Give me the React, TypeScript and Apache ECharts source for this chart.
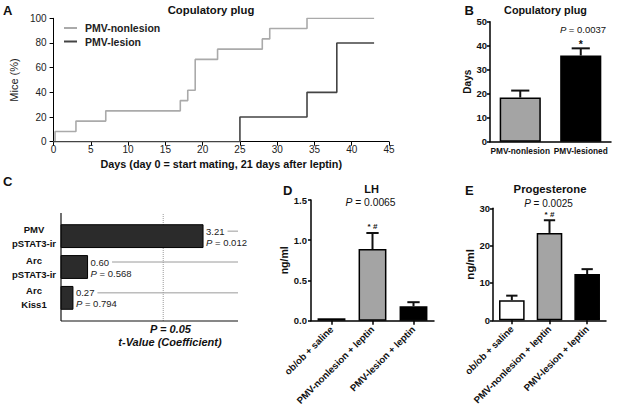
import React, { useEffect, useRef } from "react";
import * as echarts from "echarts";

const FONT = "'Liberation Sans', Arial, Helvetica, sans-serif";

// ---- Panel A: cumulative copulatory plug (Kaplan-Meier style) ----
const nonlesionDays = [0, 0.2, 3, 7, 17, 18, 19, 22, 28, 29, 34, 43];
const nonlesionPct = [0, 8.3, 16.7, 25, 33.3, 41.7, 66.7, 75, 83.3, 91.7, 100, 100];
const lesionDays = [0, 25, 34, 38, 43];
const lesionPct = [0, 20, 40, 80, 80];
const seriesNames = ["PMV-nonlesion", "PMV-lesion"];
const daysTicks = { min: 0, max: 45, interval: 5 };
const miceTicks = { min: 0, max: 100, interval: 20 };

// ---- Panel B: days to copulatory plug ----
const plugGroups = ["PMV-nonlesion", "PMV-lesioned"];
const plugDays = [18.4, 35.9];
const plugErr = [2.9, 3.0];
const plugSig = ["", "*"];

// ---- Panel C: t-values ----
const regionLabels = ["PMV\npSTAT3-ir", "Arc\npSTAT3-ir", "Arc\nKiss1"];
const tValues = [3.21, 0.6, 0.27];
const pValues = ["0.012", "0.568", "0.794"];
const tCritical = 2.31;
const tMax = 4;
const rowsMax = 3.5;

// ---- Panels D & E ----
const treatGroups = ["ob/ob + saline", "PMV-nonlesion + leptin", "PMV-lesion + leptin"];
const lhMean = [0.03, 0.89, 0.18];
const lhErr = [0, 0.2, 0.05];
const progMean = [5.4, 23.4, 12.4];
const progErr = [1.2, 3.4, 1.3];
const treatSig = ["", "* #", ""];

const GRAY = "#a4a4a4";

function measure(text: string, font: string): number {
  const c = document.createElement("canvas");
  const ctx = c.getContext("2d");
  if (!ctx) return text.length * 5;
  ctx.font = font;
  return ctx.measureText(text).width;
}

const makeErrorRender = (sig: string[], sigSize: number, sigOff: number) => (params: any, api: any) => {
  const i = api.value(0);
  const mean = api.value(1);
  const hi = api.value(2);
  const b = api.coord([i, mean]);
  const t = api.coord([i, hi]);
  const band = api.size([1, 0])[0];
  const cap = band * 0.15;
  const ls = { stroke: "#111", lineWidth: 2 };
  const children: any[] = [];
  if (hi > mean) {
    children.push({ type: "line", shape: { x1: b[0], y1: b[1], x2: t[0], y2: t[1] }, style: ls });
    children.push({ type: "line", shape: { x1: t[0] - cap, y1: t[1], x2: t[0] + cap, y2: t[1] }, style: ls });
  }
  const s = sig[params.dataIndex];
  if (s) {
    children.push({
      type: "text",
      x: t[0],
      y: t[1] - sigOff,
      style: { text: s, fontSize: sigSize, fontFamily: FONT, fontWeight: "bold", fill: "#111", align: "center", verticalAlign: "middle" },
    });
  }
  return { type: "group", children };
};

const renderC = (params: any, api: any) => {
  const i = params.dataIndex;
  const t = api.value(0);
  const pos = api.value(1);
  const a = api.coord([0, pos + 0.37]);
  const b = api.coord([t, pos - 0.37]);
  const c = api.coord([t, pos]);
  const xEnd = api.coord([tMax, pos])[0];
  const y0 = Math.min(a[1], b[1]);
  const y1 = Math.max(a[1], b[1]);
  const label = t.toFixed(2);
  const tx = b[0] + 3;
  const ly = c[1] - 5;
  const w = measure(label, `9.5px ${FONT}`);
  return {
    type: "group",
    children: [
      { type: "rect", shape: { x: a[0], y: y0, width: b[0] - a[0], height: y1 - y0 }, style: { fill: "#2b2b2b", stroke: "#000", lineWidth: 1 } },
      { type: "text", x: tx, y: ly, style: { text: label, fontSize: 9.5, fontFamily: FONT, fill: "#222", align: "left", verticalAlign: "middle" } },
      { type: "line", shape: { x1: tx + w + 3, y1: ly, x2: xEnd, y2: ly }, style: { stroke: "#9a9a9a", lineWidth: 1 } },
      {
        type: "text",
        x: tx,
        y: c[1] + 6,
        style: {
          text: `{i|P}{n| = ${pValues[i]}}`,
          rich: {
            i: { fontStyle: "italic", fontSize: 9.5, fontFamily: FONT, fill: "#222" },
            n: { fontSize: 9.5, fontFamily: FONT, fill: "#222" },
          },
          align: "left",
          verticalAlign: "middle",
        },
      },
      {
        type: "text",
        x: a[0] - 27,
        y: c[1],
        style: { text: regionLabels[i], fontSize: 9.5, fontWeight: "bold", fontFamily: FONT, fill: "#111", align: "center", verticalAlign: "middle", lineHeight: 14 },
      },
    ],
  };
};

function txt(x: number, y: number, text: string, size: number, weight: string = "bold", align: string = "center", italic = false) {
  return {
    type: "text",
    x,
    y,
    style: { text, fontSize: size, fontWeight: weight, fontStyle: italic ? "italic" : "normal", fontFamily: FONT, fill: "#111", align, verticalAlign: "middle" },
  };
}

function ptxt(x: number, y: number, value: string, size: number) {
  return {
    type: "text",
    x,
    y,
    style: {
      text: `{i|P}{n| = ${value}}`,
      rich: {
        i: { fontStyle: "italic", fontSize: size, fontFamily: FONT, fill: "#111" },
        n: { fontSize: size, fontFamily: FONT, fill: "#111" },
      },
      align: "center",
      verticalAlign: "middle",
    },
  };
}

const boldAxis = () => ({
  axisLine: { show: true, lineStyle: { color: "#000", width: 1.5 } },
  splitLine: { show: false },
});

const hiddenAxis = () => ({
  axisLine: { show: false },
  axisTick: { show: false },
  axisLabel: { show: false },
  splitLine: { show: false },
});

const frameLine = (data: number[][]) => ({
  type: "line",
  xAxisIndex: 2,
  yAxisIndex: 2,
  symbol: "none",
  clip: false,
  data,
  lineStyle: { color: "#111", width: 1.2 },
  z: 4,
});

function buildOption(): any {
  return {
    animation: false,
    backgroundColor: "#fff",
    textStyle: { fontFamily: FONT },
    legend: {
      data: seriesNames,
      orient: "vertical",
      left: 59,
      top: 17.5,
      itemWidth: 13,
      itemHeight: 2,
      itemGap: 2.5,
      icon: "rect",
      selectedMode: false,
      textStyle: { fontSize: 10.5, fontWeight: "bold", color: "#222", padding: [0, 0, 0, 3] },
    },
    grid: [
      { left: 40, top: 18.3, width: 349, height: 123.4 },
      { left: 490, top: 21.7, width: 121, height: 120 },
      { left: 61, top: 213, width: 177, height: 108 },
      { left: 311, top: 200, width: 123, height: 120.7 },
      { left: 493, top: 208.3, width: 113, height: 112 },
    ],
    xAxis: [
      {
        gridIndex: 0,
        type: "value",
        ...daysTicks,
        axisLine: { show: true, lineStyle: { color: "#000", width: 1 } },
        axisTick: { show: true, length: 4, lineStyle: { color: "#000" } },
        axisLabel: { fontSize: 10, color: "#222", margin: 3 },
        splitLine: { show: false },
        name: "Days (day 0 = start mating, 21 days after leptin)",
        nameLocation: "middle",
        nameGap: 17,
        nameTextStyle: { fontSize: 10.8, fontWeight: "bold", color: "#111" },
      },
      {
        gridIndex: 1,
        type: "category",
        data: plugGroups,
        ...boldAxis(),
        axisTick: { show: false },
        axisLabel: { fontSize: 8.3, fontWeight: "bold", color: "#111", margin: 5, interval: 0 },
      },
      { gridIndex: 2, type: "value", min: 0, max: tMax, position: "bottom", ...hiddenAxis() },
      {
        gridIndex: 3,
        type: "category",
        data: treatGroups,
        ...boldAxis(),
        axisTick: { show: true, alignWithLabel: true, length: 4, lineStyle: { color: "#000", width: 1.5 } },
        axisLabel: { fontSize: 9.6, fontWeight: "bold", color: "#111", rotate: 45, margin: 7, interval: 0 },
      },
      {
        gridIndex: 4,
        type: "category",
        data: treatGroups,
        ...boldAxis(),
        axisTick: { show: true, alignWithLabel: true, length: 4, lineStyle: { color: "#000", width: 1.5 } },
        axisLabel: { fontSize: 9.6, fontWeight: "bold", color: "#111", rotate: 45, margin: 7, interval: 0 },
      },
    ],
    yAxis: [
      {
        gridIndex: 0,
        type: "value",
        ...miceTicks,
        axisLine: { show: true, lineStyle: { color: "#000", width: 1 } },
        axisTick: { show: true, length: 4, lineStyle: { color: "#000" } },
        axisLabel: { fontSize: 10, color: "#222", margin: 7 },
        splitLine: { show: false },
        name: "Mice (%)",
        nameLocation: "middle",
        nameGap: 22,
        nameTextStyle: { fontSize: 11, color: "#222" },
      },
      {
        gridIndex: 1,
        type: "value",
        min: 0,
        max: 50,
        interval: 10,
        ...boldAxis(),
        axisTick: { show: true, length: 3, lineStyle: { color: "#000", width: 1.5 } },
        axisLabel: { fontSize: 9.5, fontWeight: "bold", color: "#111", margin: 3 },
        name: "Days",
        nameLocation: "middle",
        nameGap: 16,
        nameTextStyle: { fontSize: 10, fontWeight: "bold", color: "#111" },
      },
      { gridIndex: 2, type: "value", min: 0, max: rowsMax, ...hiddenAxis() },
      {
        gridIndex: 3,
        type: "value",
        min: 0,
        max: 1.5,
        interval: 0.5,
        ...boldAxis(),
        axisTick: { show: true, length: 3, lineStyle: { color: "#000", width: 1.5 } },
        axisLabel: { fontSize: 9.5, fontWeight: "bold", color: "#111", margin: 4, formatter: (v: number) => v.toFixed(1) },
        name: "ng/ml",
        nameLocation: "middle",
        nameGap: 18,
        nameTextStyle: { fontSize: 10.5, fontWeight: "bold", color: "#111" },
      },
      {
        gridIndex: 4,
        type: "value",
        min: 0,
        max: 30,
        interval: 10,
        ...boldAxis(),
        axisTick: { show: true, length: 3, lineStyle: { color: "#000", width: 1.5 } },
        axisLabel: { fontSize: 9.5, fontWeight: "bold", color: "#111", margin: 3 },
        name: "ng/ml",
        nameLocation: "middle",
        nameGap: 13,
        nameTextStyle: { fontSize: 11.5, fontWeight: "bold", color: "#111" },
      },
    ],
    series: [
      {
        type: "line",
        name: seriesNames[0],
        xAxisIndex: 0,
        yAxisIndex: 0,
        step: "end",
        symbol: "none",
        data: nonlesionDays.map((d, i) => [d, nonlesionPct[i]]),
        lineStyle: { color: "#aaaaaa", width: 1.6 },
        itemStyle: { color: "#aaaaaa" },
        z: 3,
      },
      {
        type: "line",
        name: seriesNames[1],
        xAxisIndex: 0,
        yAxisIndex: 0,
        step: "end",
        symbol: "none",
        data: lesionDays.map((d, i) => [d, lesionPct[i]]),
        lineStyle: { color: "#444444", width: 1.6 },
        itemStyle: { color: "#444444" },
        z: 3,
      },
      {
        type: "bar",
        xAxisIndex: 1,
        yAxisIndex: 1,
        barWidth: "68%",
        data: plugDays.map((v, i) => ({ value: v, itemStyle: { color: i === 0 ? GRAY : "#000" } })),
        itemStyle: { borderColor: "#000", borderWidth: 1.5 },
      },
      {
        type: "custom",
        xAxisIndex: 1,
        yAxisIndex: 1,
        data: plugDays.map((v, i) => [i, v, v + plugErr[i]]),
        encode: { x: 0, y: [1, 2] },
        renderItem: makeErrorRender(plugSig, 10.5, 4),
        z: 3,
      },
      {
        type: "custom",
        xAxisIndex: 2,
        yAxisIndex: 2,
        data: tValues.map((t, i) => [t, rowsMax - 0.75 - i]),
        encode: { x: 0, y: 1 },
        renderItem: renderC,
        z: 3,
      },
      {
        type: "line",
        xAxisIndex: 2,
        yAxisIndex: 2,
        symbol: "none",
        data: [
          [tCritical, 0],
          [tCritical, rowsMax],
        ],
        lineStyle: { type: "dotted", color: "#999", width: 1 },
        z: 1,
      },
      frameLine([
        [0, rowsMax],
        [0, 0],
      ]),
      frameLine([
        [0, 0],
        [tMax, 0],
      ]),
      {
        type: "bar",
        xAxisIndex: 3,
        yAxisIndex: 3,
        barWidth: "68%",
        data: lhMean.map((v, i) => ({ value: v, itemStyle: { color: i === 0 ? "#fff" : i === 1 ? GRAY : "#000" } })),
        itemStyle: { borderColor: "#000", borderWidth: 1.5 },
      },
      {
        type: "custom",
        xAxisIndex: 3,
        yAxisIndex: 3,
        data: lhMean.map((v, i) => [i, v, v + lhErr[i]]),
        encode: { x: 0, y: [1, 2] },
        renderItem: makeErrorRender(treatSig, 8, 6),
        z: 3,
      },
      {
        type: "bar",
        xAxisIndex: 4,
        yAxisIndex: 4,
        barWidth: "68%",
        data: progMean.map((v, i) => ({ value: v, itemStyle: { color: i === 0 ? "#fff" : i === 1 ? GRAY : "#000" } })),
        itemStyle: { borderColor: "#000", borderWidth: 1.5 },
      },
      {
        type: "custom",
        xAxisIndex: 4,
        yAxisIndex: 4,
        data: progMean.map((v, i) => [i, v, v + progErr[i]]),
        encode: { x: 0, y: [1, 2] },
        renderItem: makeErrorRender(treatSig, 8, 6),
        z: 3,
      },
    ],
    graphic: [
      txt(3, 10, "A", 13, "bold", "left"),
      txt(464.5, 10, "B", 13, "bold", "left"),
      txt(3, 181, "C", 13, "bold", "left"),
      txt(283, 190, "D", 13, "bold", "left"),
      txt(465, 190, "E", 13, "bold", "left"),
      txt(211, 10, "Copulatory plug", 11.3),
      txt(545.5, 10, "Copulatory plug", 10.8),
      txt(371.5, 189, "LH", 11),
      txt(550, 189, "Progesterone", 11.3),
      ptxt(583, 29, "0.0037", 9.5),
      ptxt(370.5, 202, "0.0065", 10.3),
      ptxt(548.5, 203.3, "0.0025", 10),
      txt(170.5, 329, "P = 0.05", 11, "bold", "center", true),
      txt(170, 341.7, "t-Value (Coefficient)", 11, "bold", "center", true),
    ],
  };
}

export default function App() {
  const ref = useRef<HTMLDivElement>(null);
  useEffect(() => {
    document.body.style.margin = "0";
    if (!ref.current) return;
    const chart = echarts.init(ref.current, undefined, { renderer: "svg" });
    chart.setOption(buildOption());
    return () => chart.dispose();
  }, []);
  return <div ref={ref} style={{ position: "absolute", left: 0, top: 0, width: 622, height: 410, background: "#fff" }} />;
}
